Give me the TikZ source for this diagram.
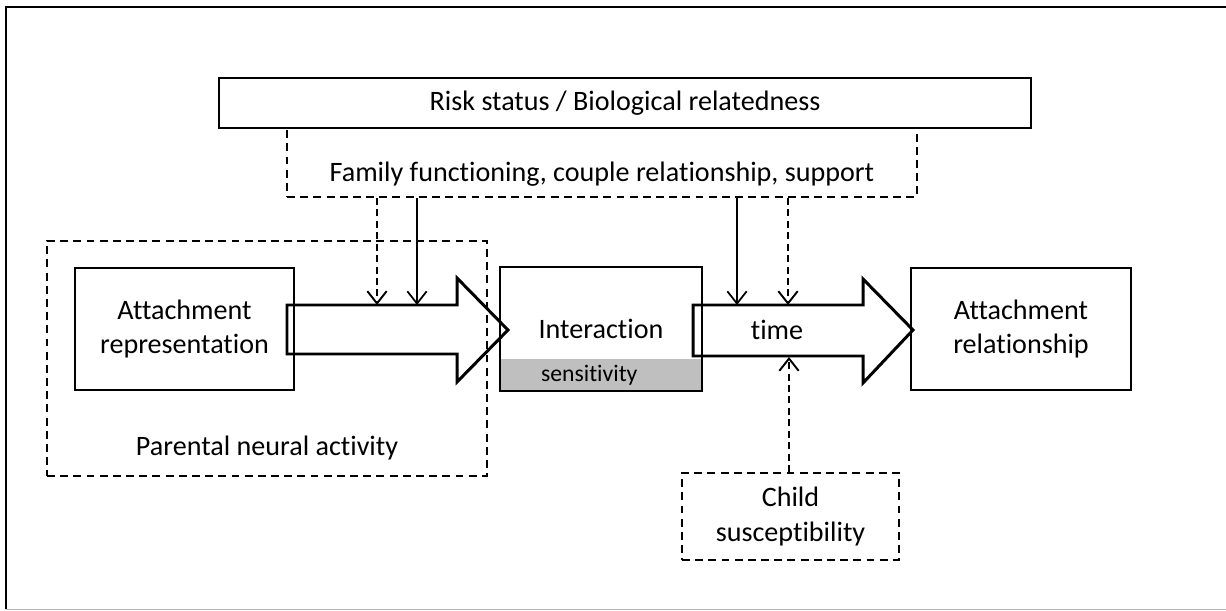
\documentclass[tikz,border=0pt]{standalone}
\usepackage{fontspec}
\setmainfont[Ligatures=NoCommon]{Carlito}
\usepackage{tikz}
\usetikzlibrary{arrows.meta,positioning}
\tikzstyle{boxstyle}=[draw,line width=1.1pt,rectangle,inner sep=2pt,align=center]
\tikzstyle{dashbox}=[draw,line width=1.2pt,dash pattern=on 4.5pt off 3pt,rectangle,inner sep=2pt,align=center]
\tikzstyle{bigarrow}=[line width=1.7pt,line join=miter]

\begin{document}
\begin{tikzpicture}[x=0.02cm,y=-0.02cm,>={Straight Barb[length=7pt,width=11pt]},font=\fontsize{16}{19.5}\selectfont]
	\tikzstyle{link}=[->,line width=1pt]
	\tikzstyle{dashlink}=[->,line width=1.1pt,dash pattern=on 4pt off 2.5pt]

	\useasboundingbox (0,0) rectangle (1226,611);
	\draw[line width=1.1pt] (6,609) -- (6,7) -- (1226,7);
	\draw[gray!60,line width=0.8pt] (6,609.5) -- (1226,609.5);

	\node[dashbox,minimum width=12.6cm,minimum height=1.38cm,text height=24pt] (family) at (602,162.5) {Family functioning, couple relationship, support};
	\node[boxstyle,fill=white,minimum width=16.24cm,minimum height=1cm] (risk) at (625,103) {Risk status / Biological relatedness};

	\node[dashbox,minimum width=8.8cm,minimum height=4.7cm,label={[anchor=south,yshift=6pt]south:Parental neural activity}] (neural) at (267,358.5) {};
	\node[boxstyle,minimum width=4.38cm,minimum height=2.44cm] (rep) at (184.5,329) {Attachment\\representation};

	\node[fill=gray!50,inner xsep=0.82cm,inner ysep=0pt,text width=2.4cm,align=left,minimum height=0.64cm,font=\fontsize{13.5}{16}\selectfont] (sens) at (601,375) {sensitivity};
	\node[boxstyle,minimum width=4.04cm,minimum height=2.48cm] (inter) at (601,329) {Interaction};

	\node[boxstyle,minimum width=4.4cm,minimum height=2.44cm] (rel) at (1021,329) {Attachment\\relationship};
	\node[dashbox,minimum width=4.34cm,minimum height=1.74cm] (child) at (790.5,516.5) {Child\\susceptibility};

	\draw[bigarrow] (287,305) -- (457,305) -- (457,278) -- (508,330) -- (457,382) -- (457,354) -- (287,354) -- cycle;
	\draw[bigarrow] (693,305) -- (863,305) -- (863,279) -- (913,330) -- (863,383) -- (863,356) -- (693,356) -- cycle;
	\node (time) at (777,330) {time};

	\coordinate (m1) at (377,305);
	\coordinate (m2) at (417,305);
	\coordinate (m3) at (737,305);
	\coordinate (m4) at (788,305);
	\coordinate (m5) at (789,357);

	\draw[dashlink] (family.south -| m1) -- (m1);
	\draw[link] (family.south -| m2) -- (m2);
	\draw[link] (family.south -| m3) -- (m3);
	\draw[dashlink] (family.south -| m4) -- (m4);
	\draw[dashlink] (child.north -| m5) -- (m5);

\end{tikzpicture}
\end{document}
